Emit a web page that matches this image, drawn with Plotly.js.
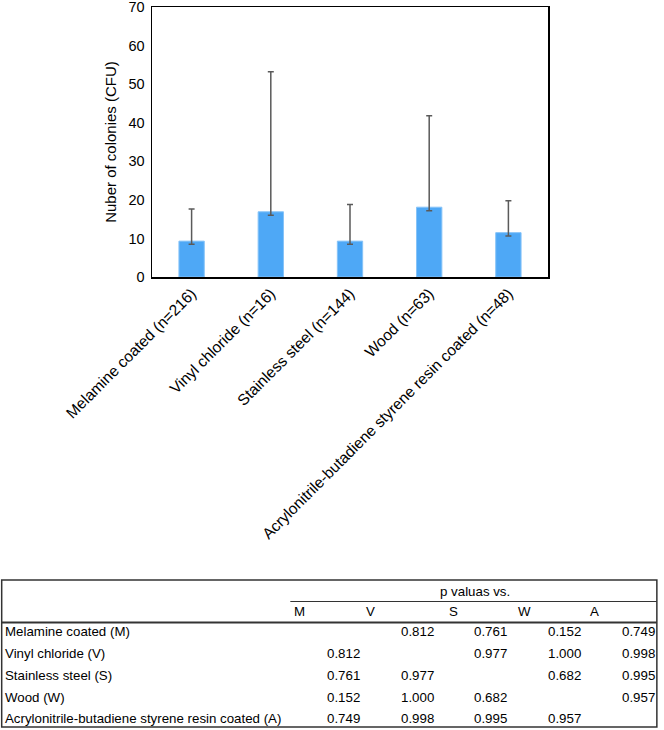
<!DOCTYPE html>
<html>
<head>
<meta charset="utf-8">
<script src="https://cdn.plot.ly/plotly-3.0.1.min.js"></script>
<style>html,body{margin:0;padding:0;background:#fff;}#chart{width:664px;height:730px;}</style>
</head>
<body>
<div id="chart"></div>
<script>
// ---- data ----
var categories = ["Melamine coated (n=216)", "Vinyl chloride (n=16)", "Stainless steel (n=144)", "Wood (n=63)", "Acrylonitrile-butadiene styrene resin coated (n=48)"];
var colonies = [9.3, 16.9, 9.3, 18.1, 11.5];
var errorPlus = [8.3, 36.3, 9.5, 23.7, 8.3];
var errorMinus = [0.8, 0.9, 0.8, 0.9, 0.9];
var yTicks = [0, 10, 20, 30, 40, 50, 60, 70];

var tableTitle = "p valuas vs.";
var colHeaders = ["M", "V", "S", "W", "A"];
var rowLabels = ["Melamine coated (M)", "Vinyl chloride (V)", "Stainless steel (S)", "Wood (W)", "Acrylonitrile-butadiene styrene resin coated (A)"];
var pM = [null, 0.812, 0.761, 0.152, 0.749];
var pV = [0.812, null, 0.977, 1.000, 0.998];
var pS = [0.761, 0.977, null, 0.682, 0.995];
var pW = [0.152, 1.000, 0.682, null, 0.957];
var pA = [0.749, 0.998, 0.995, 0.957, null];
var pRows = [pM, pV, pS, pW, pA];

// ---- layout geometry (pixels) ----
var W = 664, H = 730;
var L = 151.5, R = 548, T = 7, B = 277;
function px(x) { return (x - L) / (R - L); }
function py(y) { return (B - y) / (B - T); }

var font = "Arial, 'Liberation Sans', sans-serif";
var shapes = [];
var annotations = [];
var lineCol = "#333333";

// table frame
var tL = 1, tR = 657, tT = 580, tB = 727;
shapes.push({type: "rect", xref: "paper", yref: "paper", x0: px(tL), x1: px(tR), y0: py(tT), y1: py(tB), line: {color: lineCol, width: 1.5}});
shapes.push({type: "line", xref: "paper", yref: "paper", x0: px(290), x1: px(tR), y0: py(601.5), y1: py(601.5), line: {color: lineCol, width: 1.2}});
shapes.push({type: "line", xref: "paper", yref: "paper", x0: px(tL), x1: px(tR), y0: py(622.5), y1: py(622.5), line: {color: lineCol, width: 2}});

var tf = {family: font, size: 13.3, color: "#000"};
annotations.push({xref: "paper", yref: "paper", x: px(475), y: py(591), text: tableTitle, showarrow: false, xanchor: "center", yanchor: "middle", font: tf});
var headerX = [299, 370, 453, 524, 595];
colHeaders.forEach(function (h, i) {
  annotations.push({xref: "paper", yref: "paper", x: px(headerX[i]), y: py(612), text: h, showarrow: false, xanchor: "center", yanchor: "middle", font: tf});
});
var rowY = [631.5, 653, 675, 697, 718.5];
var valRight = [362, 436, 509, 583, 657];
rowLabels.forEach(function (lab, r) {
  annotations.push({xref: "paper", yref: "paper", x: px(2), y: py(rowY[r]), text: lab, showarrow: false, xanchor: "left", yanchor: "middle", font: tf});
  pRows[r].forEach(function (v, c) {
    if (v === null) return;
    annotations.push({xref: "paper", yref: "paper", x: px(valRight[c]), y: py(rowY[r]), text: v.toFixed(3), showarrow: false, xanchor: "right", yanchor: "middle", font: tf});
  });
});

var trace = {
  type: "bar",
  x: categories,
  y: colonies,
  marker: {color: "#4ea8f6", line: {color: "#86c3f8", width: 1}},
  error_y: {type: "data", symmetric: false, array: errorPlus, arrayminus: errorMinus, color: "#5a5a5a", thickness: 1.5, width: 3},
  hoverinfo: "none"
};

var layout = {
  width: W, height: H,
  margin: {l: L, r: W - R, t: T, b: H - B, pad: 0},
  paper_bgcolor: "#fff", plot_bgcolor: "#fff",
  showlegend: false,
  bargap: 0.68,
  font: {family: font, color: "#000"},
  xaxis: {
    type: "category", tickangle: -45, showgrid: false, zeroline: false,
    showline: true, linecolor: "#000", linewidth: 1.5, mirror: true, ticks: "",
    tickfont: {family: font, size: 15.5, color: "#000"}, automargin: false
  },
  yaxis: {
    range: [0, 70], tickvals: yTicks, showgrid: false, zeroline: false,
    showline: true, linecolor: "#000", linewidth: 1.5, mirror: true, ticks: "", ticklen: 0,
    ticklabeloverflow: "allow", ticklabelstandoff: 3,
    tickfont: {family: font, size: 14.5, color: "#000"},
    title: {text: "Nuber of colonies (CFU)", font: {family: font, size: 15, color: "#000"}, standoff: 8},
    automargin: false
  },
  shapes: shapes,
  annotations: annotations
};

Plotly.newPlot("chart", [trace], layout, {staticPlot: true, displayModeBar: false});
</script>
</body>
</html>
